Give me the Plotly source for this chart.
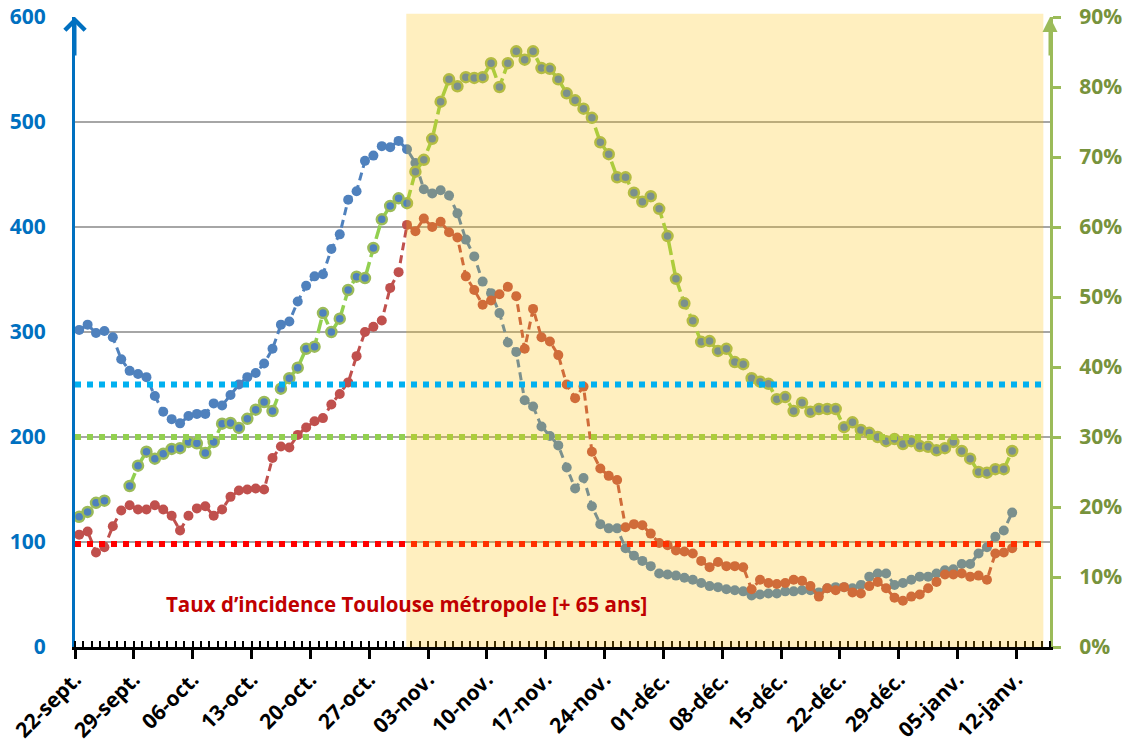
import plotly.graph_objects as go
import pandas as pd

# ---------------- data ----------------
dates = pd.date_range("2020-09-22 12:00", periods=112, freq="D")

incidence_all = [302, 307, 299, 301, 295, 274, 263, 260, 257, 239,
                 224, 217, 213, 220, 222, 222, 232, 230, 240, 250,
                 257, 261, 270, 284, 307, 310, 329, 344, 353, 355,
                 379, 393, 426, 434, 463, 468, 477, 476, 482, 474,
                 461, 436, 432, 435, 430, 413, 388, 372, 348, 337,
                 318, 290, 281, 235, 229, 210, 201, 192, 171, 151,
                 161, 134, 117, 113, 113, 94, 87, 82, 77, 70,
                 69, 68, 66, 64, 61, 58, 57, 55, 54, 53,
                 49, 50, 51, 51, 53, 53, 54, 54, 52, 56,
                 57, 57, 56, 59, 67, 70, 70, 59, 61, 64,
                 67, 67, 70, 73, 74, 79, 79, 89, 95, 105,
                 111, 128]

incidence_65 = [107, 110, 90, 95, 115, 130, 135, 131, 131, 135,
                131, 125, 111, 125, 132, 134, 125, 131, 143, 149,
                150, 151, 150, 180, 191, 190, 202, 209, 215, 218,
                231, 241, 252, 277, 300, 305, 311, 342, 357, 402,
                396, 408, 400, 405, 395, 390, 353, 340, 326, 330,
                336, 343, 334, 284, 322, 295, 291, 278, 250, 237,
                248, 186, 170, 163, 159, 114, 117, 116, 108, 99,
                97, 92, 91, 89, 82, 76, 81, 77, 77, 76,
                55, 64, 61, 60, 61, 64, 63, 58, 48, 56,
                54, 57, 52, 51, 58, 62, 56, 47, 44, 48,
                50, 56, 62, 69, 69, 70, 67, 68, 64, 89,
                90, 94]

positivity_pct = [18.6, 19.3, 20.6, 20.9, None, None, 23.0, 25.9, 27.9, 26.9,
                  27.6, 28.3, 28.4, 29.3, 29.1, 27.7, 29.3, 31.9, 32.0, 31.3,
                  32.6, 33.9, 35.0, 33.7, 36.9, 38.4, 39.9, 42.6, 42.9, 47.7,
                  45.0, 46.9, 51.0, 52.9, 52.7, 57.0, 61.1, 63.0, 64.1, 63.4,
                  67.9, 69.6, 72.6, 77.9, 81.1, 80.1, 81.4, 81.3, 81.4, 83.4,
                  80.0, 83.4, 85.1, 83.9, 85.1, 82.7, 82.6, 81.1, 79.1, 78.1,
                  76.9, 75.6, 72.1, 70.4, 67.1, 67.1, 64.9, 63.6, 64.4, 62.6,
                  58.7, 52.6, 49.1, 46.6, 43.6, 43.7, 42.3, 42.6, 40.7, 40.4,
                  38.4, 37.9, 37.6, 35.4, 35.7, 33.7, 34.9, 33.6, 34.0, 34.0,
                  34.0, 31.4, 32.1, 31.0, 30.6, 30.0, 29.4, 29.7, 29.0, 29.4,
                  28.7, 28.6, 28.1, 28.4, 29.3, 28.0, 26.9, 25.0, 24.9, 25.4,
                  25.4, 28.0]
positivity = [None if v is None else v / 100 for v in positivity_pct]

tick_dates = pd.date_range("2020-09-22", periods=17, freq="7D")
tick_labels = ["22-sept.", "29-sept.", "06-oct.", "13-oct.", "20-oct.", "27-oct.",
               "03-nov.", "10-nov.", "17-nov.", "24-nov.", "01-déc.", "08-déc.",
               "15-déc.", "22-déc.", "29-déc.", "05-janv.", "12-janv."]

threshold_all = 250        # left axis
threshold_65 = 98          # left axis
threshold_pos = 0.30       # right axis

shade_start = "2020-10-31 10:00"
shade_end = "2021-01-15 05:00"
x_range = ["2020-09-22", "2021-01-16"]

label_text = "Taux d’incidence Toulouse métropole [+ 65 ans]"

FONT = "Open Sans"

# ---------------- figure ----------------
fig = go.Figure()

fig.add_trace(go.Scatter(
    x=dates, y=incidence_all, mode="lines+markers", yaxis="y",
    line=dict(color="#4F81BD", width=3, dash="8px,5px"),
    marker=dict(size=10, color="#4F81BD"), showlegend=False))

fig.add_trace(go.Scatter(
    x=dates, y=incidence_65, mode="lines+markers", yaxis="y",
    line=dict(color="#C0504D", width=3, dash="8px,5px"),
    marker=dict(size=10, color="#C0504D"), showlegend=False))

fig.add_trace(go.Scatter(
    x=dates, y=positivity, mode="lines+markers", yaxis="y2",
    line=dict(color="#92D050", width=3.5, dash="14px,5px"),
    marker=dict(size=10, color="#4F81BD", line=dict(color="#9BBB59", width=2.5)),
    connectgaps=False, showlegend=False))

shapes = [
    dict(type="line", xref="paper", yref="y2", x0=0, x1=0.994,
         y0=threshold_pos, y1=threshold_pos, layer="above",
         line=dict(color="#92D050", width=6, dash="dot")),
    dict(type="line", xref="paper", yref="y", x0=0, x1=0.994,
         y0=threshold_65, y1=threshold_65, layer="above",
         line=dict(color="#FF0000", width=6, dash="dot")),
    dict(type="rect", xref="x", yref="paper", x0=shade_start, x1=shade_end,
         y0=0, y1=1.005, layer="above", fillcolor="rgba(255,192,0,0.25)",
         line=dict(width=0)),
    dict(type="line", xref="paper", yref="y", x0=0, x1=0.994,
         y0=threshold_all, y1=threshold_all, layer="above",
         line=dict(color="#00B0F0", width=6, dash="dot")),
]

annotations = [
    dict(text=label_text, xref="paper", yref="y", x=0.3395, y=41,
         xanchor="center", yanchor="middle", showarrow=False,
         font=dict(family=FONT, size=20.5, color="#C00000", weight="bold")),
    dict(text="", xref="paper", yref="paper", x=0, y=1.0, ax=0, ay=40,
         showarrow=True, arrowhead=4, arrowwidth=3, arrowsize=1.3,
         arrowcolor="#0070C0", standoff=0),
    dict(text="", xref="paper", yref="paper", x=1, y=1.0, ax=0, ay=40,
         showarrow=True, arrowhead=2, arrowwidth=3, arrowsize=1.0,
         arrowcolor="#9BBB59", standoff=0),
]

fig.update_layout(
    template="none",
    width=1123, height=748, autosize=False,
    margin=dict(l=75, r=73, t=17, b=101, autoexpand=False),
    paper_bgcolor="white", plot_bgcolor="white",
    showlegend=False,
    font=dict(family=FONT),
    shapes=shapes, annotations=annotations,
    xaxis=dict(
        type="date", range=x_range, automargin=False,
        tickvals=tick_dates, ticktext=tick_labels, tickangle=-45,
        tickfont=dict(family=FONT, size=21, color="black", weight="bold"),
        ticklabeloverflow="allow",
        ticks="outside", ticklen=9, tickwidth=3, tickcolor="black",
        showline=True, linecolor="black", linewidth=3,
        showgrid=False, zeroline=False,
        minor=dict(dtick=86400000, tick0="2020-09-22", ticks="inside",
                   ticklen=6, tickwidth=2, tickcolor="black", showgrid=False),
    ),
    yaxis=dict(
        range=[0, 600], dtick=100, tick0=0, automargin=False,
        tickfont=dict(family=FONT, size=21, color="#0070C0", weight="bold"),
        ticklabeloverflow="allow",
        showgrid=True, gridcolor="#A6A6A6", gridwidth=2,
        showline=True, linecolor="#0070C0", linewidth=3,
        ticks="", ticklabelstandoff=22, zeroline=False,
    ),
    yaxis2=dict(
        overlaying="y", side="right", range=[0, 0.9], dtick=0.1, tick0=0,
        tickformat=".0%", automargin=False,
        tickfont=dict(family=FONT, size=21, color="#77933C", weight="bold"),
        ticklabeloverflow="allow",
        showgrid=False, showline=True, linecolor="#9BBB59", linewidth=3,
        ticks="outside", ticklen=8, tickwidth=3, tickcolor="#9BBB59",
        ticklabelstandoff=14, zeroline=False,
    ),
)

# remove the browser's default 8px page margin so the figure fills the window
fig.write_html("out.html",
               config={"displayModeBar": False},
               post_script="document.body.style.margin='0px';")
